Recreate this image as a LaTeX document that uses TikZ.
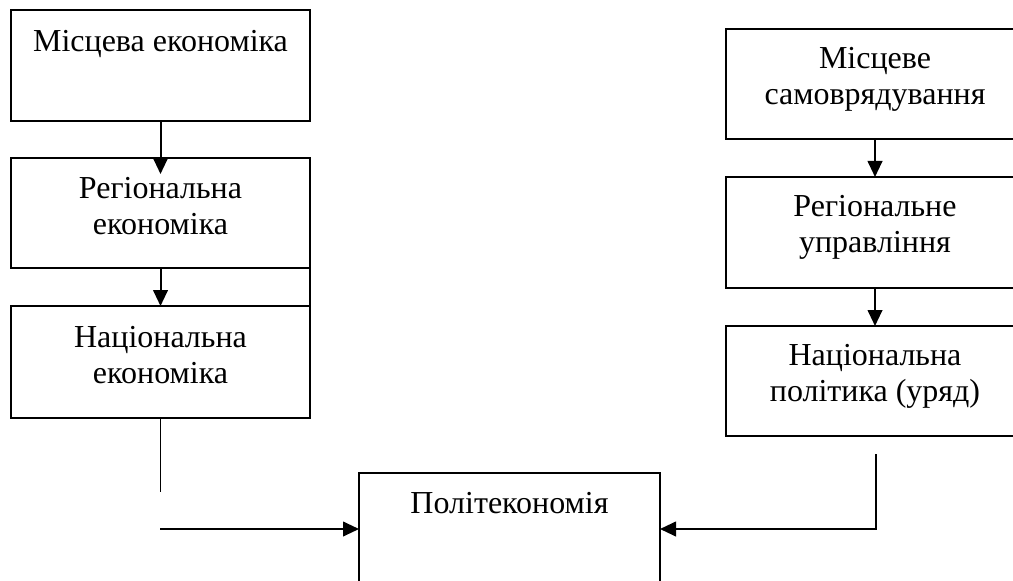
\documentclass[tikz,border=0pt]{standalone}
\usepackage{fontspec}
\setmainfont{Liberation Serif}
\usetikzlibrary{arrows.meta}
\begin{document}
\begin{tikzpicture}[x=0.75pt,y=-0.75pt,
  box/.style={draw, line width=1.3pt, inner sep=0pt, outer sep=0pt},
  lbl/.style={align=center, inner sep=0pt, anchor=base, font=\fontsize{24}{27.5}\selectfont},
  arr/.style={line width=1.5pt, -{Triangle[length=12pt,width=11pt]}},
  ln/.style={line width=1.1pt}]
\useasboundingbox (0,0) rectangle (1013,581);
\clip (0,0) rectangle (1013,581);
% left column
\node[box, minimum width=224.25pt, minimum height=83.25pt] (L1) at (160.5,65.5) {};
\node[box, minimum width=224.25pt, minimum height=82.5pt] (L2) at (160.5,213) {};
\node[box, minimum width=224.25pt, minimum height=84pt] (L3) at (160.5,362) {};
\node[lbl] (L1t) at (160.5,52) {Місцева економіка};
\node[lbl] (L2t) at (160.5,234.7) {Регіональна\\економіка};
\node[lbl] (L3t) at (160.5,383.7) {Національна\\економіка};
% right column
\node[box, minimum width=223.5pt, minimum height=82.5pt] (R1) at (875,84) {};
\node[box, minimum width=223.5pt, minimum height=83.25pt] (R2) at (875,232.5) {};
\node[box, minimum width=223.5pt, minimum height=82.5pt] (R3) at (875,381) {};
\node[lbl] (R1t) at (875,104.7) {Місцеве\\самоврядування};
\node[lbl] (R2t) at (875,252.7) {Регіональне\\управління};
\node[lbl] (R3t) at (875,401.7) {Національна\\політика (уряд)};
% bottom box
\node[box, minimum width=225.75pt, minimum height=110.25pt] (P) at (509.5,546.5) {};
\node[lbl] (Pt) at (509.5,513) {Політекономія};
% connectors
\draw[arr] (L1.south) -- ([yshift=-12pt]L2.north);
\draw[arr] (L2.south) -- (L3.north);
\draw[ln] (L2.south east) -- (L3.north east);
\coordinate (Lend) at (160.5,492);
\draw[ln] (L3.south) -- (Lend);
\coordinate (Lstart) at (160,529);
\draw[arr] (Lstart) -- (P.west |- Lstart);
\draw[arr] (R1.south) -- (R2.north);
\draw[arr] (R2.south) -- (R3.north);
\coordinate (Rstart) at (876,454);
\draw[arr] (Rstart) |- (P.east |- Lstart);
\end{tikzpicture}
\end{document}
